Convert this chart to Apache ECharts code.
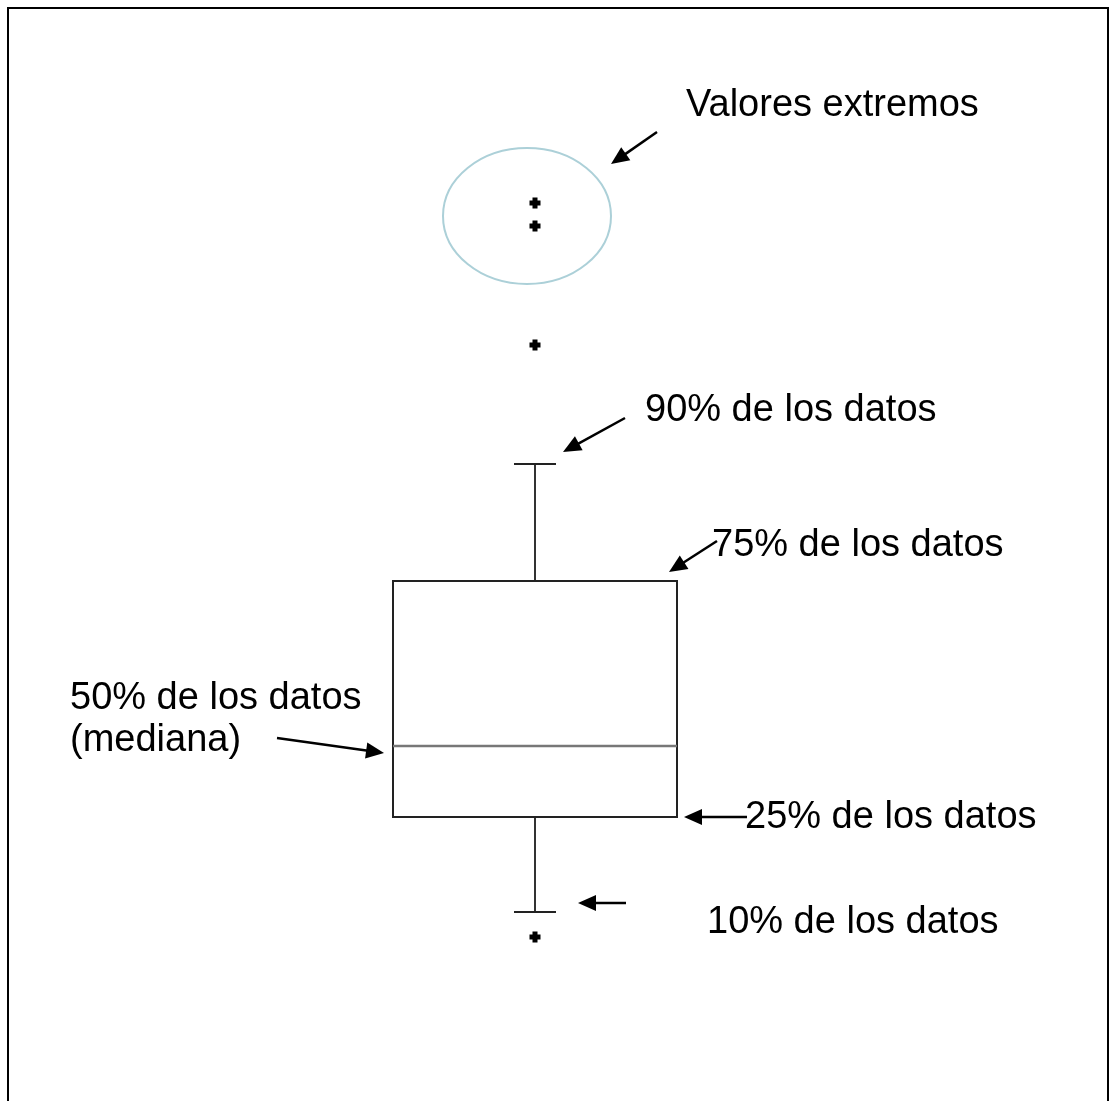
<!DOCTYPE html>
<html>
<head>
<meta charset="utf-8">
<script src="https://cdn.jsdelivr.net/npm/echarts@6/dist/echarts.min.js"></script>
<style>
html, body { margin: 0; padding: 0; background: #fff; }
#chart { width: 1110px; height: 1101px; }
</style>
</head>
<body>
<div id="chart"></div>
<script>
// datos del diagrama de caja (unidades arbitrarias)
const categories = ['datos'];
const p10 = [18.9];
const p25 = [28.4];
const p50 = [35.5];
const p75 = [52.0];
const p90 = [63.7];
const extremos = [89.8, 87.5, 75.6, 16.4];

const FONT = '38px "Liberation Sans", Arial, sans-serif';

const chart = echarts.init(document.getElementById('chart'));

// flecha: linea + punta triangular
function arrow(x1, y1, x2, y2) {
	const dx = x2 - x1, dy = y2 - y1;
	const len = Math.sqrt(dx * dx + dy * dy);
	const ux = dx / len, uy = dy / len;
	const hl = 18, hw = 8;
	const bx = x2 - ux * hl, by = y2 - uy * hl;
	return [
		{ type: 'line', shape: { x1: x1, y1: y1, x2: bx + ux * 2, y2: by + uy * 2 }, style: { stroke: '#000', lineWidth: 2.5 } },
		{ type: 'polygon', shape: { points: [[x2, y2], [bx - uy * hw, by + ux * hw], [bx + uy * hw, by - ux * hw]] }, style: { fill: '#000' } }
	];
}

function label(text, x, y) {
	return { type: 'text', style: { text: text, x: x, y: y, font: FONT, fill: '#000', verticalAlign: 'middle' } };
}

const graphics = [
	{ type: 'rect', shape: { x: 8, y: 8, width: 1100, height: 1200 }, style: { fill: 'none', stroke: '#000', lineWidth: 2 } },
	{ type: 'ellipse', shape: { cx: 527, cy: 216, rx: 84, ry: 68 }, style: { fill: 'none', stroke: '#acd0d8', lineWidth: 2 } },
	label('Valores extremos', 686, 106),
	label('90% de los datos', 645, 411),
	label('75% de los datos', 712, 546),
	label('50% de los datos', 70, 699),
	label('(mediana)', 70, 741),
	label('25% de los datos', 745, 818),
	label('10% de los datos', 707, 923)
].concat(
	arrow(657, 132, 611, 164),
	arrow(625, 418, 563, 452),
	arrow(717, 541, 669, 572),
	arrow(277, 738, 384, 753),
	arrow(747, 817, 684, 817),
	arrow(626, 903, 578, 903)
);

const boxData = categories.map((c, i) => [i, p10[i], p25[i], p50[i], p75[i], p90[i]]);
const outlierData = extremos.map(v => [0, v]);

const option = {
	animation: false,
	backgroundColor: '#fff',
	grid: { left: 0, top: 0, width: 1070, height: 1101 },
	xAxis: { type: 'category', data: categories, show: false },
	yAxis: { type: 'value', min: 0, max: 110.1, show: false },
	series: [
		{
			type: 'custom',
			data: boxData,
			encode: { x: 0, y: [1, 2, 3, 4, 5] },
			renderItem: function (params, api) {
				const i = api.value(0);
				const lo = api.coord([i, api.value(1)]);
				const q1 = api.coord([i, api.value(2)]);
				const md = api.coord([i, api.value(3)]);
				const q3 = api.coord([i, api.value(4)]);
				const hi = api.coord([i, api.value(5)]);
				const cx = lo[0];
				const hw = 142, cap = 21;
				const dark = { stroke: '#222', lineWidth: 2, fill: 'none' };
				return {
					type: 'group',
					children: [
						{ type: 'line', shape: { x1: cx, y1: q3[1], x2: cx, y2: hi[1] }, style: { stroke: '#333', lineWidth: 2 } },
						{ type: 'line', shape: { x1: cx - cap, y1: hi[1], x2: cx + cap, y2: hi[1] }, style: { stroke: '#222', lineWidth: 2 } },
						{ type: 'line', shape: { x1: cx, y1: q1[1], x2: cx, y2: lo[1] }, style: { stroke: '#333', lineWidth: 2 } },
						{ type: 'line', shape: { x1: cx - cap, y1: lo[1], x2: cx + cap, y2: lo[1] }, style: { stroke: '#222', lineWidth: 2 } },
						{ type: 'rect', shape: { x: cx - hw, y: q3[1], width: hw * 2, height: q1[1] - q3[1] }, style: dark },
						{ type: 'line', shape: { x1: cx - hw, y1: md[1], x2: cx + hw, y2: md[1] }, style: { stroke: '#777', lineWidth: 2.5 } }
					]
				};
			}
		},
		{
			type: 'scatter',
			data: outlierData,
			symbol: 'path://M3,0h5v3h3v5h-3v3h-5v-3h-3v-5h3z',
			symbolSize: 11,
			itemStyle: { color: '#000', opacity: 1 }
		}
	],
	graphic: graphics
};

chart.setOption(option);
</script>
</body>
</html>
